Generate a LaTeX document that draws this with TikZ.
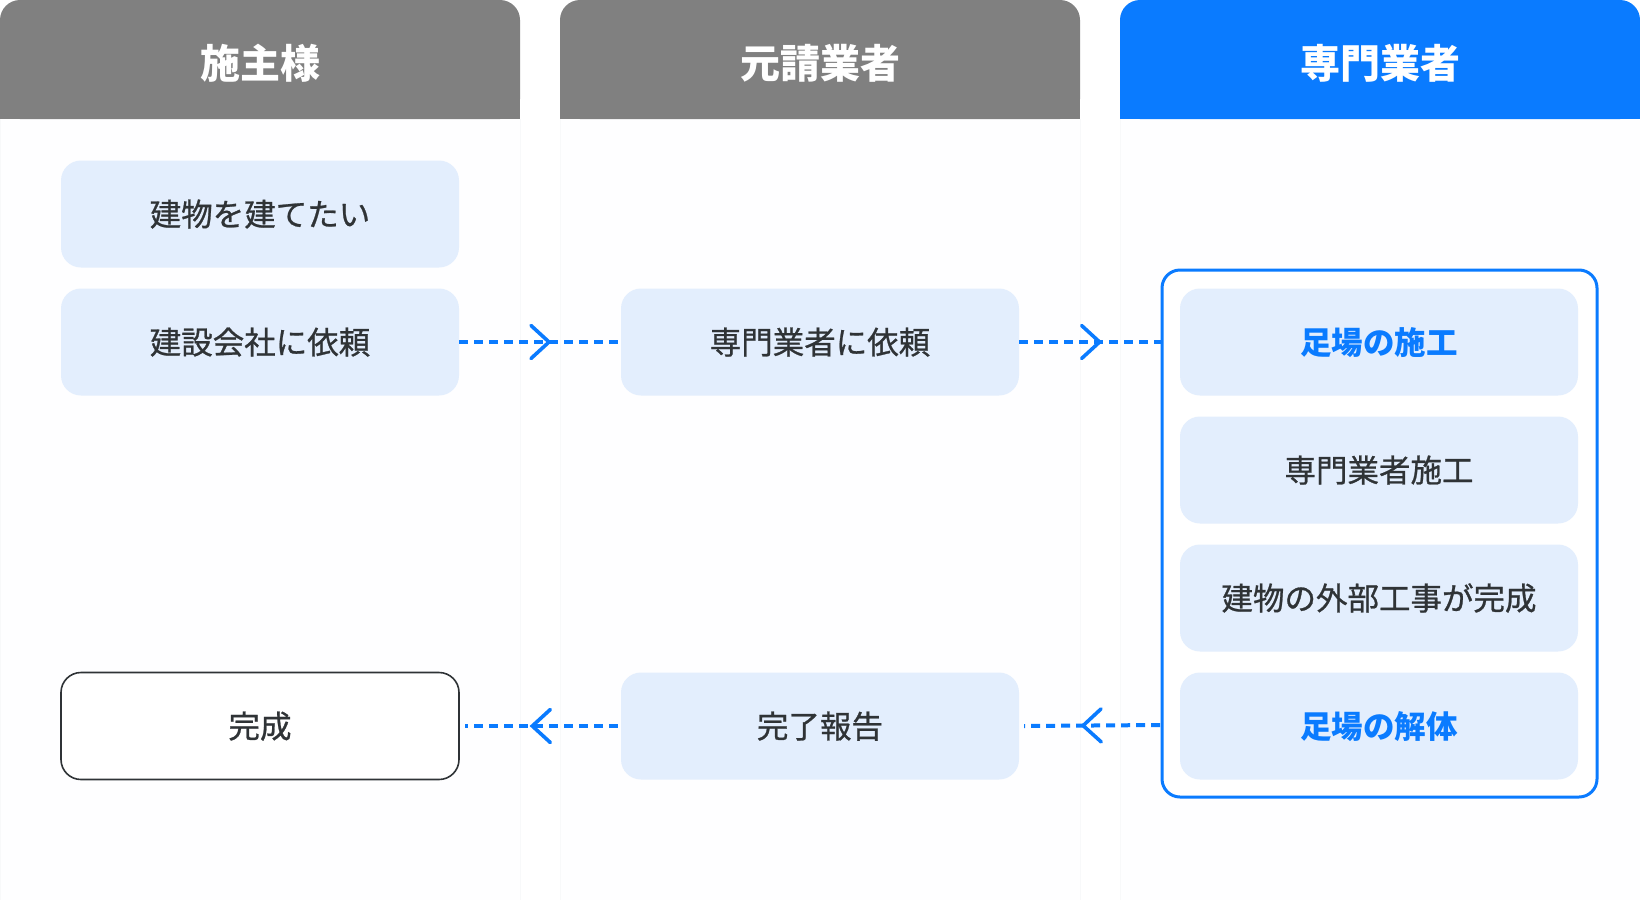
\documentclass[tikz,border=0pt]{standalone}
\usepackage{fontspec}
\setmainfont{Noto Sans CJK JP}
\newfontfamily\jpmed[FakeBold=0.8]{Noto Sans CJK JP}
\usetikzlibrary{decorations.markings}
\definecolor{hdrgray}{HTML}{808080}
\definecolor{brand}{HTML}{0A7BFF}
\definecolor{boxfill}{HTML}{E3EEFD}
\definecolor{ink}{HTML}{2F3336}
\definecolor{colbg}{HTML}{FEFEFF}
\definecolor{colline}{HTML}{F8F9FA}
\tikzset{
  hdrtext/.style={text=white,font=\fontsize{40}{42}\selectfont\bfseries,inner sep=0pt},
  stepbox/.style={rectangle,rounded corners=20pt,fill=boxfill,minimum width=398pt,minimum height=107pt,
    text=ink,font=\jpmed\fontsize{31.5}{33}\selectfont,inner sep=0pt,text depth=0pt,text height=24pt},
  keybox/.style={stepbox,text=brand,font=\fontsize{31.5}{33}\selectfont\bfseries},
  endbox/.style={stepbox,fill=white,draw=ink,line width=1.6pt},
  flow/.style={brand,line width=4pt,dash pattern=on 9pt off 6pt,
    decoration={markings,mark=at position 0.5 with {\draw[solid,line width=3.6pt,line cap=round,line join=miter] (-9pt,16.5pt)--(9pt,0pt)--(-9pt,-16.5pt);}},
    postaction={decorate}},
}
\begin{document}
\begin{tikzpicture}[x=1pt,y=-1pt]
\useasboundingbox (0,0) rectangle (1640,900);
\fill[white] (0,0) rectangle (1640,900);
% faint column backgrounds
\foreach \xa/\xb in {0/520,560/1080,1120/1640}{
  \fill[colbg] (\xa,119) rectangle (\xb,900);
  \draw[colline,line width=0.8pt] (\xa,119) -- (\xa,900) (\xb,119) -- (\xb,900);
}
% headers
\fill[hdrgray,rounded corners=20pt] (0,0) rectangle (520,119);
\fill[hdrgray] (0,50) rectangle (520,119);
\fill[hdrgray,rounded corners=20pt] (560,0) rectangle (1080,119);
\fill[hdrgray] (560,50) rectangle (1080,119);
\fill[brand,rounded corners=20pt] (1120,0) rectangle (1640,119);
\fill[brand] (1120,50) rectangle (1640,119);
\node[hdrtext] (h1) at (260,63) {施主様};
\node[hdrtext] (h2) at (820,63) {元請業者};
\node[hdrtext] (h3) at (1380,63) {専門業者};
% frame
\draw[brand,line width=3pt,rounded corners=18pt,fill=white] (1162,270) rectangle (1597,797);
\coordinate (fr2) at (1162,342);
\coordinate (fr5) at (1162,725);
% boxes
\node[stepbox] (a1) at (260,214) {建物を建てたい};
\node[stepbox] (a2) at (260,342) {建設会社に依頼};
\node[stepbox] (b2) at (820,342) {専門業者に依頼};
\node[keybox]  (c2) at (1379,342) {足場の施工};
\node[stepbox] (c3) at (1379,470) {専門業者施工};
\node[stepbox] (c4) at (1379,598) {建物の外部工事が完成};
\node[keybox]  (c5) at (1379,726) {足場の解体};
\node[endbox]  (a5) at (260,726) {完成};
\node[stepbox] (b5) at (820,726) {完了報告};
% connectors
\draw[flow] (a2.east) -- (b2.west);
\draw[flow] (b2.east) -- (fr2);
\draw[flow] ([xshift=-2pt]fr5) -- ([xshift=5pt]b5.east);
\draw[flow] ([xshift=-3pt]b5.west) -- ([xshift=5pt]a5.east);
\end{tikzpicture}
\end{document}
